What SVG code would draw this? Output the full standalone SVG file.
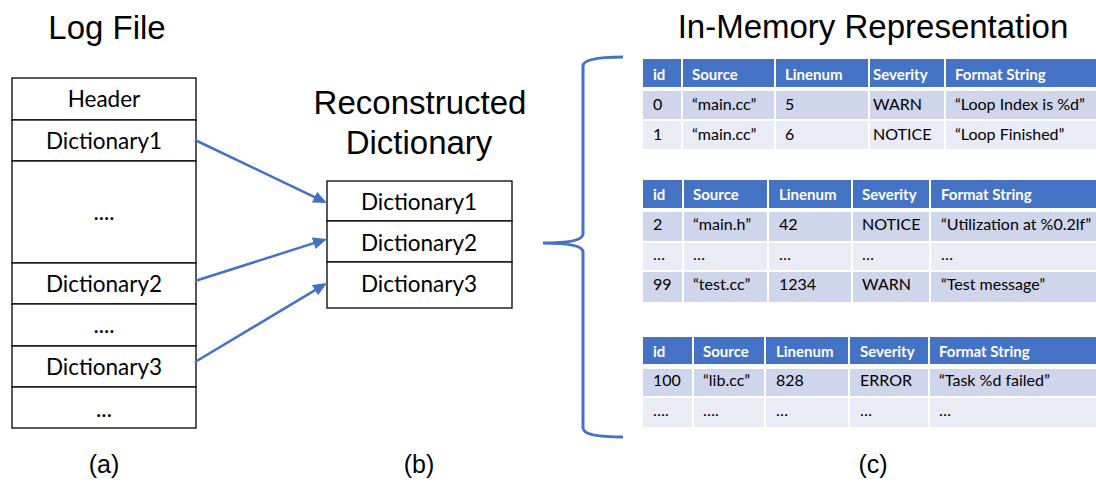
<svg xmlns="http://www.w3.org/2000/svg" width="1096" height="483" viewBox="0 0 1096 483">
  <style>
    .title { font-family: "Liberation Sans", Arial, sans-serif; fill: #000; text-anchor: middle; }
    .box { fill: #fff; stroke: #000; stroke-width: 1.3; }
    .cellt { font-family: Lato, "Noto Sans", sans-serif; font-size: 22.5px; fill: #000; text-anchor: middle; }
    .hd { fill: #4472C4; }
    .r1 { fill: #CFD5EA; }
    .r2 { fill: #E9EBF5; }
    .th { font-family: Lato, "Noto Sans", sans-serif; font-size: 15px; font-weight: bold; fill: #fff; }
    .td { font-family: Lato, "Noto Sans", sans-serif; font-size: 16px; fill: #000; }
    .conn { fill: none; stroke: #4472C4; stroke-width: 2.5; }
    .brace { fill: none; stroke: #4472C4; stroke-width: 3; }
  </style>
  <defs>
    <marker id="arrow" viewBox="0 0 14 12" refX="6" refY="6" markerWidth="14" markerHeight="12" markerUnits="userSpaceOnUse" orient="auto">
      <path d="M0,0 L14,6 L0,12 z" fill="#4472C4"/>
    </marker>
  </defs>

  <!-- section titles -->
  <text class="title" x="107" y="39" font-size="33">Log File</text>
  <text class="title" x="420" y="114" font-size="33">Reconstructed</text>
  <text class="title" x="419" y="154" font-size="33">Dictionary</text>
  <text class="title" x="873" y="38" font-size="33">In-Memory Representation</text>
  <text class="title" x="104" y="473" font-size="25">(a)</text>
  <text class="title" x="419" y="473" font-size="25">(b)</text>
  <text class="title" x="873" y="473" font-size="25">(c)</text>

  <!-- log file layout -->
  <g id="log-file">
    <rect class="box" x="12" y="78" width="184" height="42"/>
    <text class="cellt" x="104" y="107">Header</text>
    <rect class="box" x="12" y="120" width="184" height="41"/>
    <text class="cellt" x="104" y="149">Dictionary1</text>
    <rect class="box" x="12" y="161" width="184" height="102"/>
    <text class="cellt" x="104" y="220">....</text>
    <rect class="box" x="12" y="263" width="184" height="41"/>
    <text class="cellt" x="104" y="292">Dictionary2</text>
    <rect class="box" x="12" y="304" width="184" height="42"/>
    <text class="cellt" x="104" y="333">....</text>
    <rect class="box" x="12" y="346" width="184" height="41"/>
    <text class="cellt" x="104" y="375">Dictionary3</text>
    <rect class="box" x="12" y="387" width="184" height="41"/>
    <text class="cellt" x="104" y="417">...</text>
  </g>

  <!-- reconstructed dictionary -->
  <g id="reconstructed-dictionary">
    <rect class="box" x="327" y="181" width="185" height="40"/>
    <text class="cellt" x="419" y="210">Dictionary1</text>
    <rect class="box" x="327" y="221" width="185" height="41"/>
    <text class="cellt" x="419" y="251">Dictionary2</text>
    <rect class="box" x="327" y="262" width="185" height="46"/>
    <text class="cellt" x="419" y="292">Dictionary3</text>
  </g>

  <!-- connectors -->
  <g id="connectors">
    <line class="conn" x1="195" y1="140" x2="319.8" y2="199.6" marker-end="url(#arrow)"/>
    <line class="conn" x1="195" y1="281" x2="319.4" y2="241.4" marker-end="url(#arrow)"/>
    <line class="conn" x1="195" y1="362" x2="320.1" y2="287.1" marker-end="url(#arrow)"/>
    <path class="brace" d="M623,57 C600,57 583,59 583,66 L583,234 C583,240 570,243 543,243 C570,243 583,246 583,252 L583,428 C583,435 600,437 623,437"/>
  </g>

  <!-- table 1: ids 0-1 -->
  <g id="table-1">
    <rect class="hd" x="643" y="59" width="38" height="28"/>
    <rect class="hd" x="683" y="59" width="91" height="28"/>
    <rect class="hd" x="776" y="59" width="92" height="28"/>
    <rect class="hd" x="870" y="59" width="74" height="28"/>
    <rect class="hd" x="946" y="59" width="150" height="28"/>
    <rect class="r1" x="643" y="91" width="38" height="28"/>
    <rect class="r1" x="683" y="91" width="91" height="28"/>
    <rect class="r1" x="776" y="91" width="92" height="28"/>
    <rect class="r1" x="870" y="91" width="74" height="28"/>
    <rect class="r1" x="946" y="91" width="150" height="28"/>
    <rect class="r2" x="643" y="121" width="38" height="28"/>
    <rect class="r2" x="683" y="121" width="91" height="28"/>
    <rect class="r2" x="776" y="121" width="92" height="28"/>
    <rect class="r2" x="870" y="121" width="74" height="28"/>
    <rect class="r2" x="946" y="121" width="150" height="28"/>
    <text class="th" x="653" y="80">id</text>
    <text class="th" x="692" y="80">Source</text>
    <text class="th" x="785" y="80">Linenum</text>
    <text class="th" x="873" y="80">Severity</text>
    <text class="th" x="955" y="80">Format String</text>
    <text class="td" x="653" y="110">0</text>
    <text class="td" x="692" y="110">“main.cc”</text>
    <text class="td" x="785" y="110">5</text>
    <text class="td" x="873" y="110">WARN</text>
    <text class="td" x="955" y="110">“Loop Index is %d”</text>
    <text class="td" x="653" y="140">1</text>
    <text class="td" x="692" y="140">“main.cc”</text>
    <text class="td" x="785" y="140">6</text>
    <text class="td" x="873" y="140">NOTICE</text>
    <text class="td" x="955" y="140">“Loop Finished”</text>
  </g>

  <!-- table 2: ids 2-99 -->
  <g id="table-2">
    <rect class="hd" x="643" y="180" width="39" height="28"/>
    <rect class="hd" x="684" y="180" width="83" height="28"/>
    <rect class="hd" x="769" y="180" width="82" height="28"/>
    <rect class="hd" x="853" y="180" width="76" height="28"/>
    <rect class="hd" x="931" y="180" width="165" height="28"/>
    <rect class="r1" x="643" y="212" width="39" height="29"/>
    <rect class="r1" x="684" y="212" width="83" height="29"/>
    <rect class="r1" x="769" y="212" width="82" height="29"/>
    <rect class="r1" x="853" y="212" width="76" height="29"/>
    <rect class="r1" x="931" y="212" width="165" height="29"/>
    <rect class="r2" x="643" y="243" width="39" height="27"/>
    <rect class="r2" x="684" y="243" width="83" height="27"/>
    <rect class="r2" x="769" y="243" width="82" height="27"/>
    <rect class="r2" x="853" y="243" width="76" height="27"/>
    <rect class="r2" x="931" y="243" width="165" height="27"/>
    <rect class="r1" x="643" y="272" width="39" height="30"/>
    <rect class="r1" x="684" y="272" width="83" height="30"/>
    <rect class="r1" x="769" y="272" width="82" height="30"/>
    <rect class="r1" x="853" y="272" width="76" height="30"/>
    <rect class="r1" x="931" y="272" width="165" height="30"/>
    <text class="th" x="653" y="200">id</text>
    <text class="th" x="693" y="200">Source</text>
    <text class="th" x="779" y="200">Linenum</text>
    <text class="th" x="862" y="200">Severity</text>
    <text class="th" x="941" y="200">Format String</text>
    <text class="td" x="653" y="230">2</text>
    <text class="td" x="693" y="230">“main.h”</text>
    <text class="td" x="779" y="230">42</text>
    <text class="td" x="862" y="230">NOTICE</text>
    <text class="td" x="941" y="230">“Utilization at %0.2lf”</text>
    <text class="td" x="653" y="260">…</text>
    <text class="td" x="693" y="260">…</text>
    <text class="td" x="779" y="260">…</text>
    <text class="td" x="862" y="260">…</text>
    <text class="td" x="941" y="260">…</text>
    <text class="td" x="653" y="290">99</text>
    <text class="td" x="693" y="290">“test.cc”</text>
    <text class="td" x="779" y="290">1234</text>
    <text class="td" x="862" y="290">WARN</text>
    <text class="td" x="941" y="290">“Test message”</text>
  </g>

  <!-- table 3: ids 100+ -->
  <g id="table-3">
    <rect class="hd" x="643" y="337" width="49" height="27"/>
    <rect class="hd" x="694" y="337" width="70" height="27"/>
    <rect class="hd" x="766" y="337" width="82" height="27"/>
    <rect class="hd" x="850" y="337" width="78" height="27"/>
    <rect class="hd" x="930" y="337" width="166" height="27"/>
    <rect class="r1" x="643" y="369" width="49" height="27"/>
    <rect class="r1" x="694" y="369" width="70" height="27"/>
    <rect class="r1" x="766" y="369" width="82" height="27"/>
    <rect class="r1" x="850" y="369" width="78" height="27"/>
    <rect class="r1" x="930" y="369" width="166" height="27"/>
    <rect class="r2" x="643" y="398" width="49" height="29"/>
    <rect class="r2" x="694" y="398" width="70" height="29"/>
    <rect class="r2" x="766" y="398" width="82" height="29"/>
    <rect class="r2" x="850" y="398" width="78" height="29"/>
    <rect class="r2" x="930" y="398" width="166" height="29"/>
    <text class="th" x="653" y="357">id</text>
    <text class="th" x="703" y="357">Source</text>
    <text class="th" x="776" y="357">Linenum</text>
    <text class="th" x="860" y="357">Severity</text>
    <text class="th" x="939" y="357">Format String</text>
    <text class="td" x="653" y="386">100</text>
    <text class="td" x="703" y="386">“lib.cc”</text>
    <text class="td" x="776" y="386">828</text>
    <text class="td" x="860" y="386">ERROR</text>
    <text class="td" x="939" y="386">“Task %d failed”</text>
    <text class="td" x="653" y="416">….</text>
    <text class="td" x="703" y="416">….</text>
    <text class="td" x="776" y="416">…</text>
    <text class="td" x="860" y="416">…</text>
    <text class="td" x="939" y="416">…</text>
  </g>
</svg>
